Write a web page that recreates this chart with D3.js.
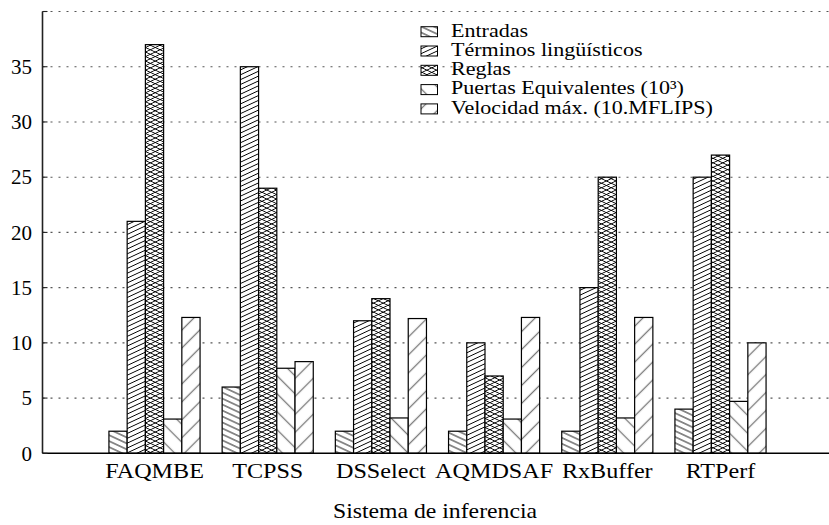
<!DOCTYPE html>
<html>
<head>
<meta charset="utf-8">
<script src="https://cdn.jsdelivr.net/npm/d3@7"></script>
<style>
  body { margin: 0; background: #fff; }
</style>
</head>
<body>
<svg id="chart" width="829" height="525"></svg>
<script>
// Inference systems and the five measured quantities for each
const categories = ["FAQMBE", "TCPSS", "DSSelect", "AQMDSAF", "RxBuffer", "RTPerf"];
const seriesNames = ["Entradas", "Términos lingüísticos", "Reglas",
                     "Puertas Equivalentes (10³)", "Velocidad máx. (10.MFLIPS)"];
const entradas  = [2, 6, 2, 2, 2, 4];
const terminos  = [21, 35, 12, 10, 15, 25];
const reglas    = [37, 24, 14, 7, 25, 27];
const puertas   = [3.1, 7.7, 3.2, 3.1, 3.2, 4.7];
const velocidad = [12.3, 8.3, 12.2, 12.3, 12.3, 10];
const yTicks = [0, 5, 10, 15, 20, 25, 30, 35];
const xTitle = "Sistema de inferencia";

const series = [entradas, terminos, reglas, puertas, velocidad];
const patternIds = ["p-entradas", "p-terminos", "p-reglas", "p-puertas", "p-velocidad"];
const FONT = "'Liberation Serif', 'Times New Roman', serif";

const W = 829, H = 525;
const svg = d3.select("#chart");

// Scales: groups sit at integer positions 1..6 along a 0..7 axis
const x = d3.scaleLinear().domain([0, 7]).range([41.3, 833.7]);
const y = d3.scaleLinear().domain([0, 40]).range([453.3, 11.5]);
const barUnits = 0.161;
const barW = x(barUnits) - x(0);
const axisX = 42.5;

// Hatch patterns (fixed in page space so hatching lines up across bars)
const defs = svg.append("defs");
function hatch(id, angle, spacing, color, width) {
  const p = defs.append("pattern")
    .attr("id", id)
    .attr("patternUnits", "userSpaceOnUse")
    .attr("width", 20).attr("height", spacing)
    .attr("patternTransform", `rotate(${angle})`);
  p.append("line").attr("x1", 0).attr("x2", 20)
    .attr("y1", spacing / 2).attr("y2", spacing / 2)
    .attr("stroke", color).attr("stroke-width", width);
  return p;
}
hatch("p-entradas", 25, 5.4, "#000", 0.9);
hatch("p-terminos", -25, 4.4, "#000", 0.9);
hatch("p-puertas", 45, 12.7, "#777", 1.3);
hatch("p-velocidad", -45, 12.7, "#777", 1.3);
// cross hatch for Reglas: two shallow line families layered
hatch("p-reglas-a", 25, 4.1, "#000", 0.85);
hatch("p-reglas-b", -25, 4.1, "#000", 0.85);

function hatchedRect(g, r, k) {
  const fills = k === 2 ? ["#fff", "url(#p-reglas-a)", "url(#p-reglas-b)"]
                        : ["#fff", `url(#${patternIds[k]})`];
  fills.forEach(f => g.append("rect")
    .attr("x", r.x).attr("y", r.y).attr("width", r.w).attr("height", r.h)
    .attr("fill", f));
  g.append("rect").attr("x", r.x).attr("y", r.y).attr("width", r.w).attr("height", r.h)
    .attr("fill", "none").attr("stroke", "#000").attr("stroke-width", r.sw);
}

// Grid lines (dotted) including the top frame line at 40
const gridVals = [5, 10, 15, 20, 25, 30, 35, 40];
svg.append("g").selectAll("line").data(gridVals).join("line")
  .attr("x1", axisX).attr("x2", W)
  .attr("y1", d => y(d)).attr("y2", d => y(d))
  .attr("stroke", "#555").attr("stroke-width", 1.1)
  .attr("stroke-dasharray", "2,6");

// Bars
const bars = svg.append("g");
series.forEach((vals, k) => {
  const g = bars.append("g");
  vals.forEach((v, i) => {
    const x0 = x(i + 1 - 2.5 * barUnits + k * barUnits);
    hatchedRect(g, { x: x0, y: y(v), w: barW, h: y(0) - y(v), sw: 1.2 }, k);
  });
});

// Axes
svg.append("line").attr("x1", axisX).attr("x2", axisX)
  .attr("y1", y(0)).attr("y2", y(40))
  .attr("stroke", "#222").attr("stroke-width", 1.6);
svg.append("line").attr("x1", axisX).attr("x2", W)
  .attr("y1", y(0)).attr("y2", y(0))
  .attr("stroke", "#000").attr("stroke-width", 1.6);

// Y ticks and labels
const yt = svg.append("g");
yt.selectAll("line").data(yTicks.concat([40])).join("line")
  .attr("x1", axisX).attr("x2", axisX + 5)
  .attr("y1", d => y(d)).attr("y2", d => y(d))
  .attr("stroke", "#222").attr("stroke-width", 1.1);
yt.selectAll("text").data(yTicks).join("text")
  .attr("text-anchor", "end")
  .attr("transform", d => `translate(32,${y(d) + 7.3}) scale(1.0,1)`)
  .style("font-family", FONT).attr("font-size", 21)
  .text(d => d);

// Category labels
svg.append("g").selectAll("text").data(categories).join("text")
  .attr("text-anchor", "middle")
  .attr("transform", (d, i) => `translate(${x(i + 1)},478) scale(1.15,1)`)
  .style("font-family", FONT).attr("font-size", 21)
  .text(d => d);

// Axis title
svg.append("text")
  .attr("text-anchor", "middle")
  .attr("transform", "translate(435,518) scale(1.13,1)")
  .style("font-family", FONT).attr("font-size", 21)
  .text(xTitle);

// Legend
const lg = svg.append("g");
seriesNames.forEach((name, k) => {
  const top = 26.7 + k * 19.3;
  hatchedRect(lg, { x: 421, y: top, w: 16.5, h: 10, sw: 1 }, k);
  lg.append("text")
    .attr("transform", `translate(451,${top + 9.8}) scale(1.16,1)`)
    .style("font-family", FONT).attr("font-size", 19)
    .text(name);
});
</script>
</body>
</html>
